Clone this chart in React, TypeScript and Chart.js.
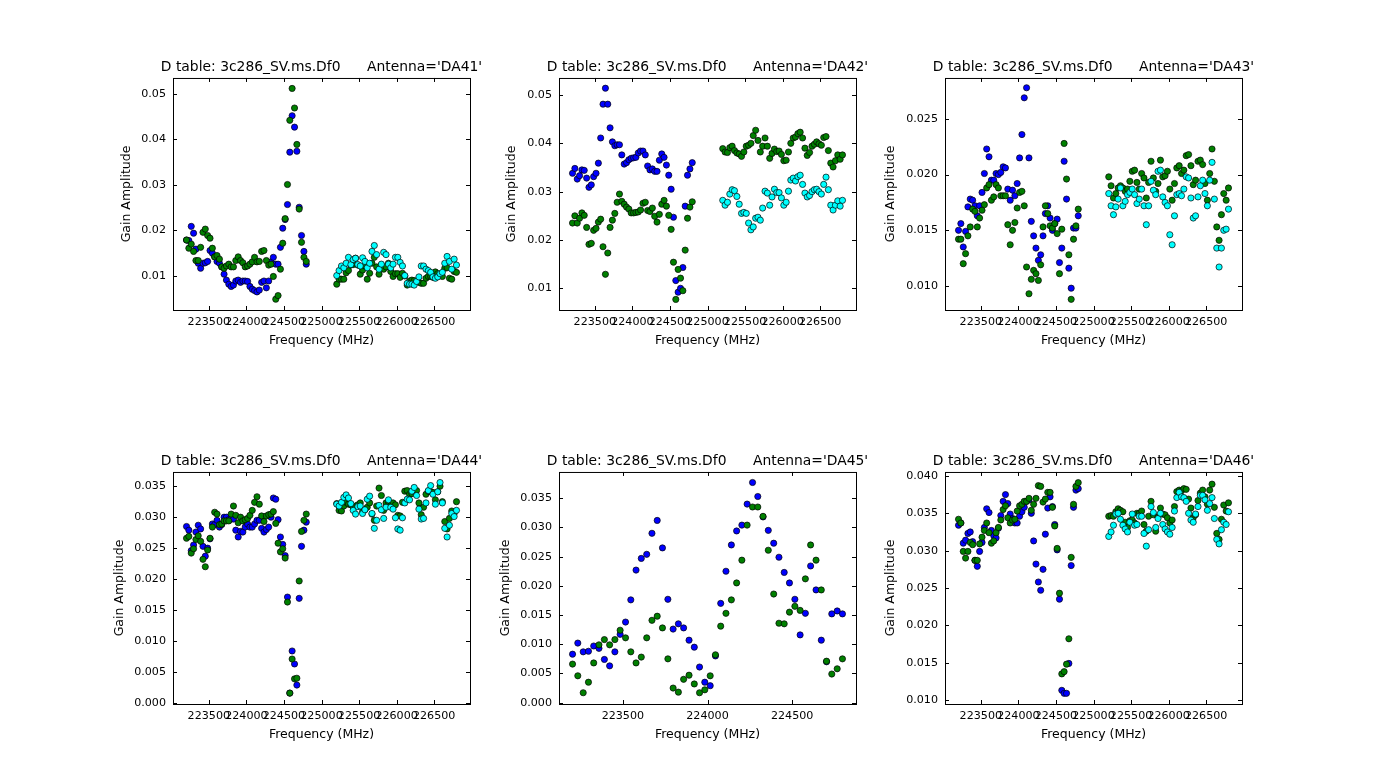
import { useEffect, useRef } from "react";
import { Chart, registerables } from "chart.js";

Chart.register(...registerables);

// channel frequencies of the two spectral windows (MHz)
const channelsLow = [
  223203, 223234, 223266, 223297, 223328, 223359, 223391, 223422, 223453, 223484, 223516, 223547, 223578,
  223609, 223641, 223672, 223703, 223734, 223766, 223797, 223828, 223859, 223891, 223922, 223953, 223984,
  224016, 224047, 224078, 224109, 224141, 224172, 224203, 224234, 224266, 224297, 224328, 224359, 224391,
  224422, 224453, 224484, 224516, 224547, 224578, 224609, 224641, 224672, 224703, 224734, 224766, 224797,
];
const channelsHigh = [
  225203, 225234, 225266, 225297, 225328, 225359, 225391, 225422, 225453, 225484, 225516, 225547, 225578,
  225609, 225641, 225672, 225703, 225734, 225766, 225797, 225828, 225859, 225891, 225922, 225953, 225984,
  226016, 226047, 226078, 226109, 226141, 226172, 226203, 226234, 226266, 226297, 226328, 226359, 226391,
  226422, 226453, 226484, 226516, 226547, 226578, 226609, 226641, 226672, 226703, 226734, 226766, 226797,
];

const da41Blue = [
  .0179, .0178, .0209, .0194, .0159, .0128, .0117, .0128, .0129, .0132, .0156, .0150, .0142,
  .0132, .0128, .0120, .0104, .0091, .0082, .0077, .0080, .0089, .0091, .0086, .0089, .0089,
  .0088, .0077, .0071, .0068, .0065, .0069, .0086, .0089, .0074, .0089, .0131, .0141, .0126,
  .0126, .0163, .0205, .0224, .0257, .0372, .0452, .0427, .0374, .0251, .0189, .0154, .0126,
];
const da41GreenLow = [
  .0179, .0161, .0170, .0154, .0134, .0134, .0163, .0196, .0203, .0189, .0183, .0161, .0142,
  .0145, .0137, .0120, .0117, .0122, .0126, .0120, .0120, .0134, .0142, .0134, .0129, .0120,
  .0122, .0126, .0131, .0141, .0131, .0132, .0154, .0156, .0134, .0124, .0126, .0099, .0049,
  .0057, .0115, .0172, .0226, .0301, .0442, .0512, .0469, .0389, .0247, .0174, .0141, .0132,
];
const da41GreenHigh = [
  .0082, .0093, .0093, .0093, .0107, .0112, .0124, .0125, .0139, .0124, .0104, .0113, .0122,
  .0093, .0106, .0128, .0141, .0120, .0104, .0124, .0115, .0120, .0128, .0110, .0099, .0105,
  .0105, .0097, .0106, .0100, .0080, .0089, .0091, .0090, .0088, .0086, .0084, .0084, .0095,
  .0099, .0099, .0097, .0109, .0105, .0102, .0099, .0117, .0118, .0095, .0093, .0110, .0108,
];
const da41Cyan = [
  .0101, .0112, .0122, .0118, .0128, .0141, .0125, .0136, .0139, .0125, .0122, .0140, .0132,
  .0118, .0128, .0154, .0167, .0147, .0115, .0126, .0152, .0147, .0126, .0118, .0126, .0141,
  .0141, .0130, .0122, .0101, .0084, .0082, .0082, .0080, .0088, .0098, .0122, .0122, .0115,
  .0112, .0108, .0098, .0095, .0098, .0105, .0108, .0128, .0143, .0132, .0115, .0137, .0124,
];

const da42Blue = [
  .0338, .0348, .0326, .0333, .0345, .0344, .0328, .0309, .0314, .0331, .0338, .0359, .0411,
  .0481, .0514, .0481, .0432, .0403, .0395, .0397, .0397, .0376, .0357, .0360, .0366, .0369,
  .0370, .0371, .0380, .0384, .0384, .0376, .0353, .0345, .0347, .0342, .0342, .0365, .0378,
  .0371, .0355, .0334, .0305, .0247, .0116, .0092, .0100, .0143, .0270, .0334, .0347, .0360,
];
const da42GreenLow = [
  .0235, .0250, .0235, .0245, .0256, .0251, .0226, .0191, .0193, .0220, .0224, .0237, .0243,
  .0186, .0129, .0173, .0226, .0241, .0255, .0278, .0295, .0280, .0274, .0268, .0264, .0256,
  .0256, .0257, .0258, .0262, .0276, .0278, .0261, .0259, .0266, .0249, .0237, .0253, .0274,
  .0282, .0270, .0251, .0222, .0154, .0077, .0139, .0121, .0095, .0179, .0245, .0268, .0279,
];
const da42GreenHigh = [
  .0389, .0382, .0381, .0391, .0394, .0385, .0380, .0378, .0373, .0382, .0394, .0396, .0400,
  .0416, .0427, .0406, .0382, .0394, .0411, .0394, .0369, .0379, .0388, .0383, .0384, .0377,
  .0364, .0365, .0382, .0400, .0411, .0413, .0420, .0423, .0411, .0390, .0375, .0381, .0394,
  .0398, .0403, .0399, .0396, .0412, .0414, .0385, .0359, .0351, .0364, .0376, .0367, .0376,
];
const da42Cyan = [
  .0282, .0272, .0278, .0295, .0304, .0302, .0290, .0274, .0255, .0257, .0255, .0235, .0221,
  .0227, .0245, .0247, .0241, .0266, .0301, .0297, .0272, .0289, .0305, .0298, .0298, .0287,
  .0272, .0278, .0301, .0324, .0328, .0322, .0331, .0334, .0315, .0297, .0289, .0292, .0300,
  .0304, .0305, .0300, .0295, .0315, .0330, .0304, .0272, .0262, .0272, .0281, .0270, .0282,
];

const da43Blue = [
  .0150, .0156, .0135, .0149, .0171, .0178, .0177, .0172, .0163, .0172, .0184, .0201, .0223,
  .0216, .0195, .0195, .0201, .0200, .0202, .0207, .0206, .0187, .0177, .0186, .0181, .0192,
  .0215, .0236, .0269, .0278, .0215, .0158, .0145, .0134, .0123, .0128, .0145, .0165, .0172,
  .0161, .0150, .0156, .0160, .0121, .0134, .0212, .0178, .0116, .0098, .0152, .0152, .0163,
];
const da43GreenLow = [
  .0142, .0142, .0120, .0129, .0145, .0153, .0169, .0167, .0153, .0161, .0168, .0173, .0188,
  .0191, .0177, .0180, .0191, .0188, .0181, .0181, .0181, .0155, .0137, .0150, .0157, .0170,
  .0184, .0185, .0172, .0117, .0093, .0106, .0114, .0111, .0105, .0119, .0153, .0172, .0165,
  .0154, .0152, .0156, .0147, .0111, .0151, .0228, .0196, .0128, .0088, .0142, .0154, .0169,
];
const da43GreenHigh = [
  .0198, .0190, .0179, .0183, .0188, .0190, .0188, .0185, .0187, .0194, .0203, .0204, .0193,
  .0187, .0201, .0197, .0179, .0193, .0212, .0197, .0185, .0192, .0213, .0198, .0199, .0203,
  .0187, .0177, .0192, .0206, .0208, .0201, .0204, .0217, .0218, .0208, .0191, .0195, .0212,
  .0213, .0209, .0192, .0177, .0201, .0223, .0194, .0153, .0141, .0164, .0183, .0177, .0188,
];
const da43Cyan = [
  .0183, .0172, .0164, .0171, .0178, .0188, .0172, .0176, .0182, .0184, .0187, .0182, .0174,
  .0178, .0187, .0172, .0155, .0172, .0194, .0186, .0182, .0203, .0204, .0180, .0175, .0172,
  .0146, .0137, .0163, .0182, .0183, .0181, .0187, .0198, .0197, .0179, .0161, .0163, .0180,
  .0190, .0195, .0183, .0172, .0195, .0211, .0178, .0134, .0117, .0134, .0150, .0151, .0169,
];

const da44Blue = [
  .0285, .0279, .0246, .0255, .0276, .0287, .0281, .0253, .0237, .0250, .0265, .0289, .0288,
  .0295, .0284, .0288, .0300, .0300, .0296, .0297, .0297, .0279, .0268, .0277, .0276, .0284,
  .0289, .0284, .0284, .0289, .0295, .0295, .0282, .0276, .0280, .0284, .0300, .0331, .0329,
  .0296, .0268, .0256, .0238, .0171, .0016, .0084, .0063, .0029, .0169, .0253, .0279, .0292,
];
const da44GreenLow = [
  .0266, .0269, .0242, .0249, .0264, .0270, .0261, .0232, .0220, .0247, .0266, .0284, .0308,
  .0305, .0288, .0289, .0294, .0294, .0294, .0305, .0318, .0303, .0291, .0300, .0294, .0296,
  .0298, .0303, .0311, .0324, .0333, .0321, .0302, .0293, .0302, .0304, .0305, .0309, .0290,
  .0258, .0244, .0249, .0234, .0163, .0016, .0071, .0039, .0040, .0197, .0277, .0295, .0305,
];
const da44GreenHigh = [
  .0322, .0311, .0310, .0318, .0324, .0321, .0320, .0316, .0318, .0320, .0323, .0309, .0312,
  .0316, .0323, .0305, .0295, .0318, .0347, .0335, .0311, .0323, .0325, .0319, .0323, .0320,
  .0303, .0302, .0324, .0342, .0343, .0337, .0338, .0341, .0343, .0323, .0304, .0316, .0337,
  .0342, .0341, .0340, .0328, .0341, .0350, .0325, .0293, .0281, .0298, .0310, .0306, .0325,
];
const da44Cyan = [
  .0321, .0318, .0324, .0332, .0336, .0331, .0322, .0311, .0305, .0317, .0318, .0306, .0312,
  .0329, .0334, .0306, .0282, .0295, .0319, .0312, .0298, .0316, .0328, .0316, .0313, .0299,
  .0281, .0279, .0299, .0323, .0329, .0328, .0342, .0348, .0335, .0313, .0297, .0298, .0323,
  .0343, .0351, .0337, .0321, .0341, .0356, .0323, .0282, .0268, .0287, .0306, .0301, .0311,
];

const da45Blue = [
  .0083, .0102, .0087, .0088, .0097, .0093, .0074, .0063, .0087, .0117, .0138, .0176, .0227,
  .0247, .0254, .0290, .0312, .0265, .0177, .0126, .0135, .0128, .0107, .0095, .0061, .0035,
  .0029, .0080, .0170, .0225, .0270, .0294, .0304, .0340, .0377, .0353, .0318, .0295, .0273,
  .0249, .0223, .0205, .0177, .0116, .0153, .0234, .0193, .0107, .0070, .0152, .0157, .0152,
];
const da45Green = [
  .0066, .0046, .0017, .0035, .0068, .0099, .0108, .0099, .0108, .0124, .0111, .0087, .0068,
  .0078, .0111, .0141, .0148, .0128, .0075, .0025, .0018, .0040, .0047, .0032, .0017, .0022,
  .0046, .0082, .0131, .0153, .0176, .0205, .0244, .0304, .0335, .0335, .0319, .0261, .0186,
  .0136, .0135, .0155, .0165, .0158, .0212, .0270, .0244, .0193, .0071, .0049, .0058, .0075,
];

const da46Blue = [
  .0334, .0337, .0310, .0314, .0323, .0325, .0312, .0287, .0279, .0299, .0311, .0331, .0356,
  .0351, .0327, .0320, .0317, .0330, .0347, .0366, .0375, .0363, .0349, .0343, .0337, .0337,
  .0346, .0352, .0358, .0366, .0368, .0350, .0313, .0282, .0258, .0247, .0275, .0322, .0357,
  .0372, .0359, .0335, .0301, .0235, .0113, .0109, .0109, .0149, .0280, .0358, .0381, .0383,
];
const da46GreenLow = [
  .0342, .0337, .0299, .0290, .0299, .0311, .0308, .0287, .0287, .0309, .0318, .0327, .0337,
  .0324, .0310, .0313, .0324, .0331, .0341, .0355, .0360, .0344, .0337, .0341, .0342, .0353,
  .0360, .0362, .0366, .0366, .0370, .0354, .0362, .0370, .0387, .0386, .0365, .0369, .0378,
  .0378, .0358, .0333, .0303, .0243, .0135, .0138, .0148, .0182, .0291, .0362, .0386, .0391,
];
const da46GreenHigh = [
  .0346, .0347, .0346, .0352, .0356, .0354, .0352, .0338, .0331, .0340, .0341, .0337, .0350,
  .0350, .0353, .0335, .0326, .0346, .0366, .0348, .0326, .0345, .0357, .0349, .0348, .0344,
  .0337, .0341, .0359, .0379, .0381, .0380, .0383, .0382, .0369, .0357, .0344, .0348, .0367,
  .0377, .0381, .0372, .0362, .0381, .0389, .0358, .0323, .0315, .0342, .0361, .0353, .0364,
];
const da46Cyan = [
  .0319, .0325, .0334, .0349, .0350, .0342, .0334, .0329, .0325, .0338, .0349, .0334, .0335,
  .0346, .0346, .0323, .0306, .0328, .0359, .0351, .0331, .0343, .0350, .0335, .0329, .0325,
  .0322, .0331, .0353, .0371, .0378, .0372, .0371, .0366, .0350, .0341, .0338, .0349, .0359,
  .0374, .0374, .0368, .0354, .0363, .0371, .0343, .0315, .0309, .0328, .0338, .0335, .0352,
];

const wideXTicks = [223500, 224000, 224500, 225000, 225500, 226000, 226500];
const narrowXTicks = [223500, 224000, 224500];
const ticksDA41 = ["0.01", "0.02", "0.03", "0.04", "0.05"];
const ticksDA43 = ["0.010", "0.015", "0.020", "0.025"];
const ticksDA44 = ["0.000", "0.005", "0.010", "0.015", "0.020", "0.025", "0.030", "0.035"];
const ticksDA46 = ["0.010", "0.015", "0.020", "0.025", "0.030", "0.035", "0.040"];

const panels = [
  { name: "DA41", blue: da41Blue, greenLow: da41GreenLow, greenHigh: da41GreenHigh, cyan: da41Cyan, xMin: 223023, xMax: 226977, yMin: 0.00253, yMax: 0.0535, xTicks: wideXTicks, yTicks: ticksDA41, left: 173, top: 78, titleGap: 46 },
  { name: "DA42", blue: da42Blue, greenLow: da42GreenLow, greenHigh: da42GreenHigh, cyan: da42Cyan, xMin: 223023, xMax: 226977, yMin: 0.00551, yMax: 0.05352, xTicks: wideXTicks, yTicks: ticksDA41, left: 559, top: 78, titleGap: 47 },
  { name: "DA43", blue: da43Blue, greenLow: da43GreenLow, greenHigh: da43GreenHigh, cyan: da43Cyan, xMin: 223023, xMax: 226977, yMin: 0.00784, yMax: 0.02868, xTicks: wideXTicks, yTicks: ticksDA43, left: 945, top: 78, titleGap: 54 },
  { name: "DA44", blue: da44Blue, greenLow: da44GreenLow, greenHigh: da44GreenHigh, cyan: da44Cyan, xMin: 223023, xMax: 226977, yMin: -0.00016, yMax: 0.0373, xTicks: wideXTicks, yTicks: ticksDA44, left: 173, top: 472, titleGap: 53 },
  { name: "DA45", blue: da45Blue, greenLow: da45Green, greenHigh: [], cyan: [], xMin: 223123, xMax: 224877, yMin: -0.00023, yMax: 0.0395, xTicks: narrowXTicks, yTicks: ticksDA44, left: 559, top: 472, titleGap: 53 },
  { name: "DA46", blue: da46Blue, greenLow: da46GreenLow, greenHigh: da46GreenHigh, cyan: da46Cyan, xMin: 223023, xMax: 226977, yMin: 0.00947, yMax: 0.04053, xTicks: wideXTicks, yTicks: ticksDA46, left: 945, top: 472, titleGap: 54 },
];

const PLOT_W = 297;
const PLOT_H = 232;
const SIDE = 70;
const ABOVE = 38;
const BELOW = 50;
const FONT = "'DejaVu Sans'";

const toPoints = (xs: number[], ys: number[]) => ys.map((y, i) => ({ x: xs[i], y }));

const markerSet = (data: { x: number; y: number }[], color: string) => ({
  data,
  backgroundColor: color,
  borderColor: "#000000",
  borderWidth: 0.7,
  pointRadius: 3.1,
  showLine: false,
});

// matplotlib style box with inward ticks on all four sides
const frameTicks = {
  id: "frameTicks",
  afterDatasetsDraw(chart: any) {
    const { ctx, chartArea: a, scales } = chart;
    ctx.save();
    ctx.strokeStyle = "#000000";
    ctx.lineWidth = 1;
    ctx.beginPath();
    scales.x.ticks.forEach((t: any) => {
      const px = Math.round(scales.x.getPixelForValue(t.value)) + 0.5;
      ctx.moveTo(px, a.top);
      ctx.lineTo(px, a.top + 4);
      ctx.moveTo(px, a.bottom);
      ctx.lineTo(px, a.bottom - 4);
    });
    scales.y.ticks.forEach((t: any) => {
      const py = Math.round(scales.y.getPixelForValue(t.value)) + 0.5;
      ctx.moveTo(a.left, py);
      ctx.lineTo(a.left + 4, py);
      ctx.moveTo(a.right, py);
      ctx.lineTo(a.right - 4, py);
    });
    ctx.stroke();
    ctx.strokeRect(a.left + 0.5, a.top + 0.5, a.right - a.left, a.bottom - a.top);
    ctx.restore();
  },
};

function Panel({ panel }: { panel: (typeof panels)[number] }) {
  const canvasRef = useRef<HTMLCanvasElement>(null);

  useEffect(() => {
    if (!canvasRef.current) return;
    const chart = new Chart(canvasRef.current, {
      type: "scatter",
      // first dataset is painted last
      data: {
        datasets: [
          markerSet(toPoints(channelsHigh, panel.cyan), "#00ffff"),
          markerSet(toPoints(channelsHigh, panel.greenHigh), "#008000"),
          markerSet(toPoints(channelsLow, panel.greenLow), "#008000"),
          markerSet(toPoints(channelsLow, panel.blue), "#0000ff"),
        ],
      },
      options: {
        responsive: false,
        animation: false,
        devicePixelRatio: 1,
        layout: { padding: 0 },
        plugins: {
          legend: { display: false },
          tooltip: { enabled: false },
          title: {
            display: true,
            text: `D table: 3c286_SV.ms.Df0      Antenna='${panel.name}'`,
            color: "#000000",
            font: { family: FONT, size: 13.89, weight: "normal", lineHeight: 1.2 },
            padding: { top: 19.3, bottom: 2 },
          },
        },
        scales: {
          x: {
            type: "linear",
            bounds: "data",
            min: panel.xMin,
            max: panel.xMax,
            grid: { display: false, drawTicks: false },
            border: { display: false },
            afterBuildTicks: (scale: any) => {
              scale.ticks = panel.xTicks.map((value) => ({ value }));
            },
            afterFit: (scale: any) => {
              scale.height = BELOW;
            },
            ticks: {
              autoSkip: false,
              maxRotation: 0,
              minRotation: 0,
              padding: 5,
              color: "#000000",
              font: { family: FONT, size: 11.11 },
              callback: (value: any) => String(value),
            },
            title: {
              display: true,
              text: "Frequency (MHz)",
              color: "#000000",
              font: { family: FONT, size: 12.5, lineHeight: 1.2 },
              padding: { top: 0, bottom: 11.8 },
            },
          },
          y: {
            type: "linear",
            bounds: "data",
            min: panel.yMin,
            max: panel.yMax,
            grid: { display: false, drawTicks: false },
            border: { display: false },
            afterBuildTicks: (scale: any) => {
              scale.ticks = panel.yTicks.map((label) => ({ value: Number(label) }));
            },
            afterFit: (scale: any) => {
              scale.width = SIDE;
            },
            ticks: {
              autoSkip: false,
              padding: 7,
              color: "#000000",
              font: { family: FONT, size: 11.11 },
              callback: (_value: any, index: number) => panel.yTicks[index],
            },
            title: {
              display: true,
              text: "Gain Amplitude",
              color: "#000000",
              font: { family: FONT, size: 12.5, lineHeight: 1.2 },
              padding: { top: SIDE - panel.titleGap - 7.5, bottom: 0 },
            },
          },
          // empty axis on the right, keeps the title centred over the plot
          yRight: {
            type: "linear",
            position: "right",
            display: true,
            min: panel.yMin,
            max: panel.yMax,
            bounds: "data",
            grid: { display: false, drawTicks: false },
            border: { display: false },
            ticks: { display: false },
            afterFit: (scale: any) => {
              scale.width = SIDE;
            },
          },
        },
      },
      plugins: [frameTicks],
    } as any);

    return () => chart.destroy();
  }, [panel]);

  return (
    <canvas
      ref={canvasRef}
      width={PLOT_W + 2 * SIDE}
      height={ABOVE + PLOT_H + BELOW}
      style={{ position: "absolute", left: panel.left - SIDE, top: panel.top - ABOVE, display: "block" }}
    />
  );
}

export default function App() {
  return (
    <div style={{ position: "fixed", left: 0, top: 0, width: 1380, height: 782, background: "#ffffff", overflow: "hidden" }}>
      {panels.map((p) => (
        <Panel key={p.name} panel={p} />
      ))}
    </div>
  );
}
